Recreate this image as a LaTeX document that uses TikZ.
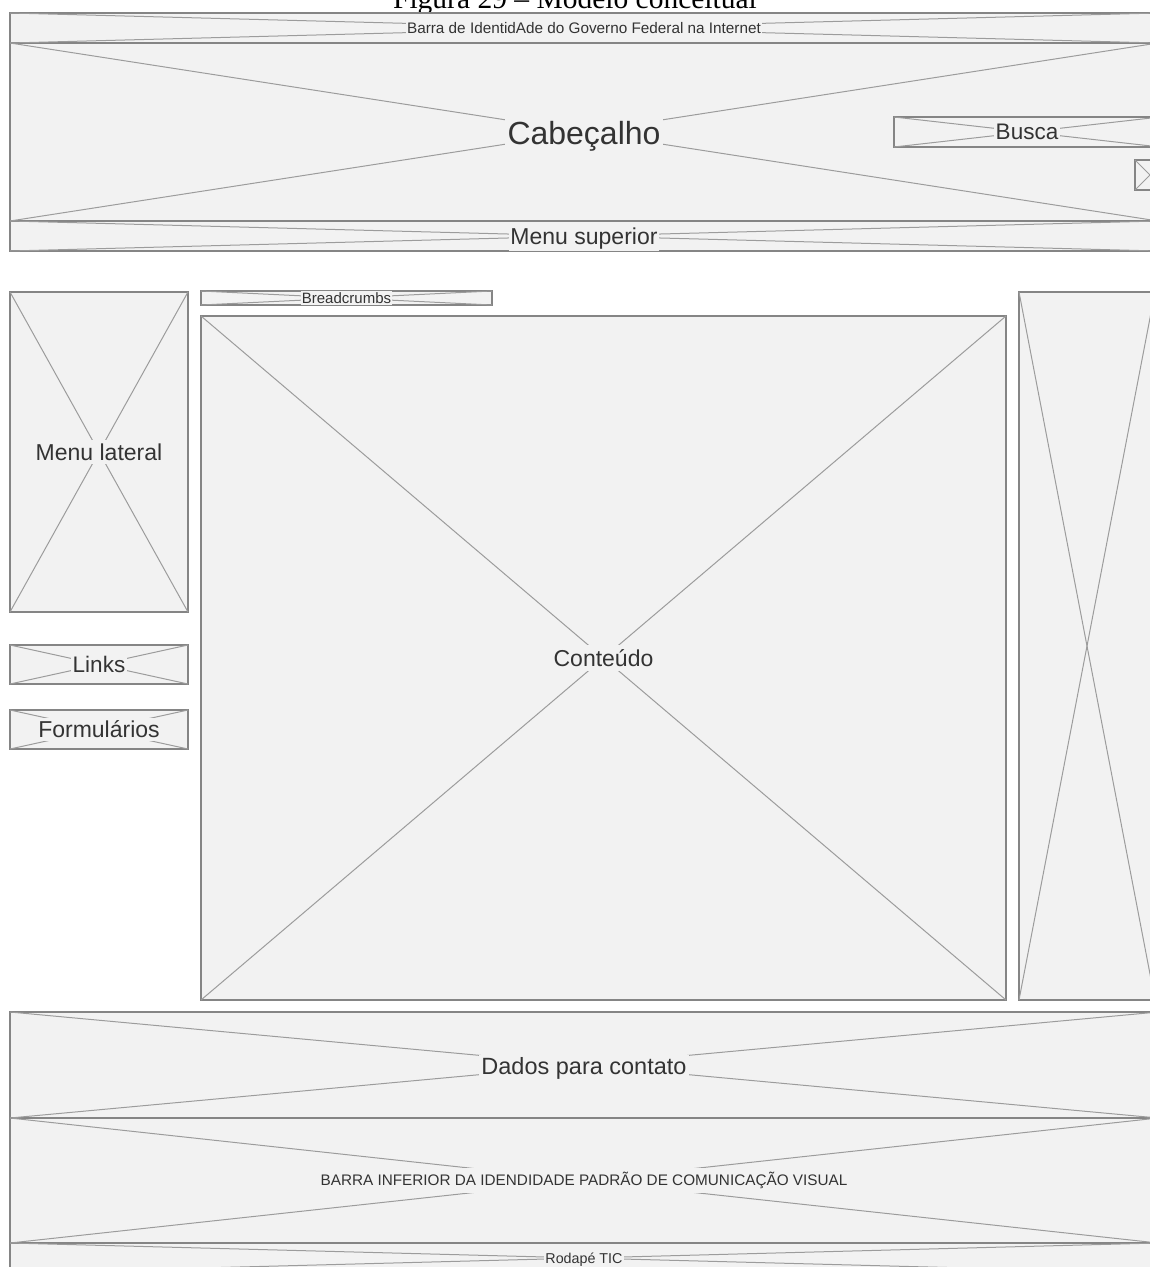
\documentclass[tikz,border=0pt]{standalone}
\usepackage{fontspec}
\setsansfont{Liberation Sans}
\newfontfamily\captionfont{Liberation Serif}
\usepackage{tikz}
\usetikzlibrary{positioning,shapes}
\definecolor{panel}{HTML}{F2F2F2}
\definecolor{rim}{HTML}{858585}
\definecolor{cross}{HTML}{9C9C9C}
\definecolor{ink}{HTML}{333333}
\newcommand{\fsz}[1]{\fontsize{#1}{#1}\selectfont}

\tikzset{
	wire/.style 2 args={rectangle, draw=rim, fill=panel, line width=1.3pt,
		outer sep=0pt, inner sep=0pt, minimum width=#1pt, minimum height=#2pt},
	diag/.style={draw=cross, line width=1pt},
	lbl/.style={fill=panel, text=ink, inner sep=2.5pt, font=\sffamily\fsz{#1}},
	lbl/.default=23
}

\begin{document}
\begin{tikzpicture}[x=1pt, y=-1pt]
	\useasboundingbox (0,0) rectangle (1150,1267);
	\clip (0,0) rectangle (1150,1267);

	\node[anchor=base, font=\captionfont\fsz{29.5}]	(fig) at (575,8) {Figura 29 – Modelo conceitual};

	% page blocks
	\node[wire={1148}{30}]	(idbar) at (584,28) {};
	\node[wire={1148}{178}]	(header) at (584,132) {};
	\node[wire={266}{30}]	(busca) at (1027,132) {};
	\node[wire={30}{30}]	(icon) at (1150,175) {};
	\node[wire={1148}{30}]	(topmenu) at (584,236) {};
	\node[wire={178}{320}]	(sidemenu) at (99,452) {};
	\node[wire={291}{14}]	(crumbs) at (346.5,298) {};
	\node[wire={805}{684}]	(content) at (603.5,658) {};
	\node[wire={136}{708}]	(aside) at (1087,646) {};
	\node[wire={178}{39}]	(links) at (99,664.5) {};
	\node[wire={178}{39}]	(forms) at (99,729.5) {};
	\node[wire={1148}{106}]	(contact) at (584,1065) {};
	\node[wire={1148}{125}]	(lowbar) at (584,1180.5) {};
	\node[wire={1148}{30}]	(ticfoot) at (584,1258) {};

	% placeholder crosses
	\foreach \b in {idbar,header,busca,icon,topmenu,sidemenu,crumbs,content,
		aside,links,forms,contact,lowbar,ticfoot} {
		\path[diag] (\b.north west) -- (\b.south east);
		\path[diag] (\b.south west) -- (\b.north east);
	}

	\node[lbl=15.3, inner sep=1.5pt]	at (idbar.center) {Barra de IdentidAde do Governo Federal na Internet};
	\node[lbl=32, yshift=-4pt]	at (header.center) {Cabeçalho};
	\node[lbl=22.5, inner sep=1.5pt]	at (busca.center) {Busca};
	\node[lbl, yshift=-3pt, inner sep=1.5pt]	at (topmenu.center) {Menu superior};
	\node[lbl, inner sep=4pt]	at (sidemenu.center) {Menu lateral};
	\node[lbl=15, inner sep=1pt]	at (crumbs.center) {Breadcrumbs};
	\node[lbl, inner sep=4pt]	at (content.center) {Conteúdo};
	\node[lbl=22.5, inner sep=1.5pt]	at (links.center) {Links};
	\node[lbl]	at (forms.center) {Formulários};
	\node[lbl=23.5, yshift=-3pt]	at (contact.center) {Dados para contato};
	\node[lbl=15.3, inner sep=4pt]	at (lowbar.center) {BARRA INFERIOR DA IDENDIDADE PADRÃO DE COMUNICAÇÃO VISUAL};
	\node[lbl=14.3, yshift=-2pt, inner sep=1.5pt]	at (ticfoot.center) {Rodapé TIC};
\end{tikzpicture}
\end{document}
